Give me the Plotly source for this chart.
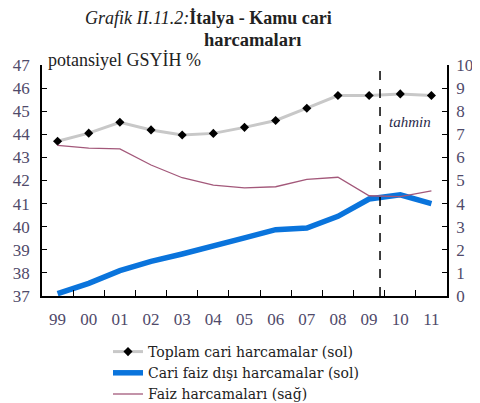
import plotly.graph_objects as go

years = ["99", "00", "01", "02", "03", "04", "05", "06", "07", "08", "09", "10", "11"]
toplam = [43.7, 44.05, 44.52, 44.19, 43.97, 44.04, 44.3, 44.6, 45.13, 45.68, 45.68, 45.75, 45.68]
faiz_disi = [37.1, 37.55, 38.1, 38.5, 38.82, 39.2, 39.52, 39.87, 39.94, 40.45, 41.2, 41.38, 41.0]
faiz = [6.52, 6.4, 6.37, 5.67, 5.12, 4.8, 4.68, 4.73, 5.05, 5.14, 4.34, 4.3, 4.55]

FONT = "Liberation Serif"
TICKCOL = "#504a6a"

fig = go.Figure()
fig.add_trace(go.Scatter(x=years, y=toplam, name="Toplam cari harcamalar (sol)", mode="lines+markers",
                         line=dict(color="#c8c8c8", width=3),
                         marker=dict(symbol="diamond", color="black", size=7)))
fig.add_trace(go.Scatter(x=years, y=faiz_disi, name="Cari faiz dışı harcamalar (sol)", mode="lines",
                         line=dict(color="#0a74dc", width=5.5)))
fig.add_trace(go.Scatter(x=years, y=faiz, name="Faiz harcamaları (sağ)", mode="lines", yaxis="y2",
                         line=dict(color="#a3587a", width=1.3)))

fig.add_shape(type="line", xref="x", yref="paper", x0=10.35, x1=10.35, y0=0, y1=0.987,
              line=dict(color="black", width=1.5, dash="dash"))

# page pixel -> paper coords (plot area spans x 42..447, y 65..296 in the page)
def px(x):
    return (x - 42) / 405

def py(y):
    return (296 - y) / 231

anns = [
    dict(x=px(83), y=py(18), xanchor="left", yanchor="middle",
         text="<i>Grafik II.11.2:</i><b>İtalya - Kamu cari</b>", font=dict(size=18, color="#222")),
    dict(x=px(252), y=py(40), xanchor="center", yanchor="middle",
         text="<b>harcamaları</b>", font=dict(size=18.5, color="#222")),
    dict(x=px(46), y=py(60), xanchor="left", yanchor="middle",
         text="potansiyel GSYİH %", font=dict(size=18, color="#222")),
    dict(x=px(410), y=py(122), xanchor="center", yanchor="middle",
         text="<i>tahmin</i>", font=dict(size=15, color="#2a2a4a")),
]
for a in anns:
    a.update(xref="paper", yref="paper", showarrow=False)
    fig.add_annotation(**a)

fig.update_layout(
    width=472, height=395,
    margin=dict(l=34, r=33, t=57, b=107, autoexpand=False),
    paper_bgcolor="white", plot_bgcolor="white",
    font=dict(family=FONT, size=14, color="#222"),
    showlegend=True,
    legend=dict(x=px(108), y=py(336), xanchor="left", yanchor="top",
                bgcolor="rgba(0,0,0,0)", font=dict(size=14, family="DejaVu Serif", color="#222"),
                tracegroupgap=0, itemwidth=30),
    xaxis=dict(type="category", range=[-0.5, 12.5], showline=True, linecolor="black", linewidth=1.5,
               ticks="inside", ticklen=6, tickcolor="black", tickson="boundaries",
               showgrid=False, zeroline=False, ticklabelstandoff=7,
               tickfont=dict(size=17, color=TICKCOL, family=FONT)),
    yaxis=dict(range=[37, 47], dtick=1, showline=True, linecolor="black", linewidth=1.5,
               ticks="inside", ticklen=5, tickcolor="black", showgrid=False, zeroline=False,
               ticklabelstandoff=7, tickfont=dict(size=17, color=TICKCOL, family=FONT)),
    yaxis2=dict(range=[0, 10], dtick=1, overlaying="y", side="right", showline=True, linecolor="black",
                linewidth=1.5, ticks="inside", ticklen=5, tickcolor="black", showgrid=False,
                zeroline=False, ticklabelstandoff=4, tickfont=dict(size=17, color=TICKCOL, family=FONT)),
)

fig.write_html("out.html")
